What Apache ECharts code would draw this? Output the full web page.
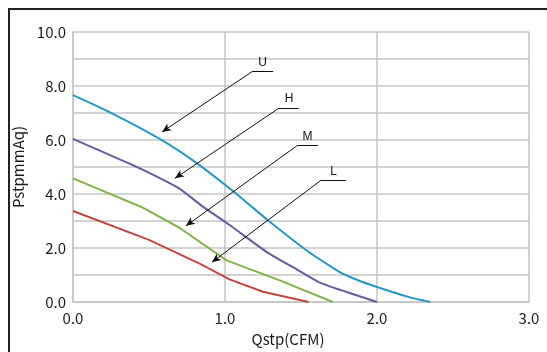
<!DOCTYPE html>
<html><head><meta charset="utf-8">
<script src="https://cdn.jsdelivr.net/npm/echarts@6/dist/echarts.min.js"></script>
<style>
html,body{margin:0;padding:0;background:#fff;}
#frame{position:absolute;left:8px;top:8px;width:560px;height:360px;border-top:2px solid #222;border-left:2px solid #222;}
#c{position:absolute;left:0;top:0;width:547px;height:352px;}
</style></head>
<body><div id="frame"></div><div id="c"></div>
<script>
const xTicks = [0, 1, 2, 3];
const U = [[0,7.66],[0.24,7.03],[0.57,6.04],[0.8,5.2],[1.05,4.12],[1.28,3.04],[1.54,1.9],[1.7,1.3],[1.78,1.03],[1.9,0.75],[2.02,0.52],[2.2,0.2],[2.35,0]];
const H = [[0,6.04],[0.2,5.55],[0.44,4.95],[0.7,4.2],[0.85,3.55],[1.03,2.85],[1.28,1.83],[1.45,1.28],[1.62,0.73],[1.8,0.37],[2.0,0]];
const M = [[0,4.58],[0.45,3.52],[0.7,2.75],[1.01,1.54],[1.36,0.8],[1.71,0]];
const L = [[0,3.37],[0.5,2.3],[0.84,1.4],[1.03,0.84],[1.25,0.38],[1.55,0]];
const seriesNames = ['U','H','M','L'];
const colors = ['#2896c4','#6a5a9e','#83b34f','#c0473f'];
// annotation leaders
const annLabels = ['U','H','M','L'];
const annCorner = [[1.178,8.53],[1.355,7.18],[1.474,5.79],[1.632,4.51]];
const annEndX = [1.316,1.487,1.612,1.796];
const annTip = [[0.586,6.30],[0.671,4.58],[0.743,2.82],[0.914,1.47]];

const chart = echarts.init(document.getElementById('c'));
const font = '"Noto Sans CJK JP","Noto Sans",sans-serif';
const data = [U,H,M,L];
const smoothing = [0.25,0.2,0,0];
const series = data.map((d,i)=>({
  name: seriesNames[i], type:'line', data:d, showSymbol:false, smooth:smoothing[i],
  lineStyle:{color:colors[i], width:2}, itemStyle:{color:colors[i]}, z:3
}));
const mlData = [];
annLabels.forEach((lab,i)=>{
  mlData.push([{coord:annCorner[i], symbol:'none'},{coord:[annEndX[i],annCorner[i][1]], symbol:'none',
    label:{show:true, formatter:lab, position:'insideMiddleTop', distance:3, color:'#111', fontSize:12, fontFamily:'"Liberation Sans",Arial,sans-serif'}}]);
  mlData.push([{coord:annCorner[i], symbol:'none'},{coord:annTip[i], symbol:'arrow', symbolSize:[6,9], label:{show:false}}]);
});
series.push({type:'line', data:[], silent:true, markLine:{silent:true, animation:false,
  lineStyle:{color:'#111', width:1, type:'solid'}, label:{show:false}, data:mlData}});

chart.setOption({
  animation:false,
  grid:{left:73, right:18, top:32, bottom:47},
  xAxis:{type:'value', min:0, max:3, interval:1,
    name:'Qstp(CFM)', nameLocation:'middle', nameGap:30,
    nameTextStyle:{fontFamily:font, fontSize:15, color:'#1a1a1a', padding:[0,26,0,0]},
    axisLine:{show:true, lineStyle:{color:'#c4c4c4', width:1.5}}, axisTick:{show:false},
    axisLabel:{fontFamily:font, fontSize:15, color:'#1a1a1a', margin:9, formatter:v=>v.toFixed(1)},
    splitLine:{show:true, lineStyle:{color:'#c4c4c4', width:1.5}}},
  yAxis:{type:'value', min:0, max:10, interval:1,
    name:'PstpmmAq)', nameLocation:'middle', nameGap:40, nameRotate:90,
    nameTextStyle:{fontFamily:font, fontSize:15, color:'#1a1a1a'},
    axisLine:{show:true, lineStyle:{color:'#c4c4c4', width:1.5}}, axisTick:{show:false},
    axisLabel:{fontFamily:font, fontSize:15, color:'#1a1a1a', margin:7, formatter:v=>(Math.round(v)%2===0? v.toFixed(1):'')},
    splitLine:{show:true, lineStyle:{color:'#c4c4c4', width:1.5}}},
  series:series
});
</script></body></html>
